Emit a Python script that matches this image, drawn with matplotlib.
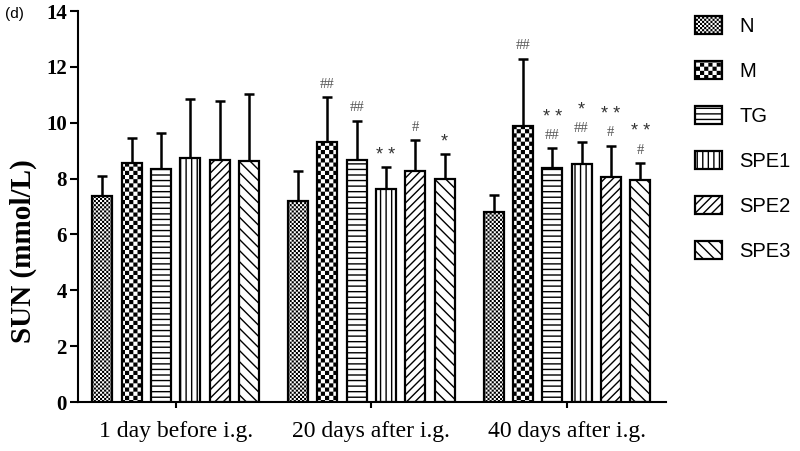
import numpy as np
import matplotlib
matplotlib.use("Agg")
import matplotlib.pyplot as plt
import matplotlib.hatch as mhatch
from matplotlib.path import Path

# ---------------- data ----------------
groups = ["1 day before i.g.", "20 days after i.g.", "40 days after i.g."]
series = ["N", "M", "TG", "SPE1", "SPE2", "SPE3"]
means_day1 = [7.39, 8.55, 8.35, 8.72, 8.65, 8.63]
means_day20 = [7.20, 9.32, 8.66, 7.63, 8.27, 8.00]
means_day40 = [6.81, 9.89, 8.39, 8.53, 8.07, 7.96]
sd_day1 = [0.70, 0.89, 1.29, 2.12, 2.12, 2.39]
sd_day20 = [1.08, 1.59, 1.40, 0.78, 1.10, 0.88]
sd_day40 = [0.60, 2.40, 0.69, 0.79, 1.10, 0.59]
hash_day1 = ["", "", "", "", "", ""]
hash_day20 = ["", "##", "##", "", "#", ""]
hash_day40 = ["", "##", "##", "##", "#", "#"]
star_day1 = ["", "", "", "", "", ""]
star_day20 = ["", "", "", "* *", "", "*"]
star_day40 = ["", "", "* *", "*", "* *", "* *"]
yticks = [0, 2, 4, 6, 8, 10, 12, 14]

means = [means_day1, means_day20, means_day40]
sds = [sd_day1, sd_day20, sd_day40]
hashes = [hash_day1, hash_day20, hash_day40]
stars = [star_day1, star_day20, star_day40]

# ---------------- checkerboard hatch ('o' -> checkerboard) ----------------
DPI = 100
HALF_LW = plt.rcParams["hatch.linewidth"] * DPI / 72.0 / 2.0 / DPI


class CheckerHatch(mhatch.HatchPatternBase):
    def __init__(self, hatch, density):
        n = int(hatch.count("o") * density)
        n += n % 2
        self.n = n
        self.num_vertices = (n * n // 2) * 5

    def set_vertices_and_codes(self, vertices, codes):
        n = self.n
        c = 1.0 / n
        s = HALF_LW
        k = 0
        for i in range(n):
            for j in range(n):
                if (i + j) % 2 == 0:
                    x0, y0 = i * c + s, j * c + s
                    x1, y1 = (i + 1) * c - s, (j + 1) * c - s
                    vertices[k:k + 5] = [[x0, y0], [x1, y0], [x1, y1], [x0, y1], [x0, y0]]
                    codes[k:k + 5] = [Path.MOVETO, Path.LINETO, Path.LINETO,
                                      Path.LINETO, Path.CLOSEPOLY]
                    k += 5


mhatch._hatch_types = [CheckerHatch if t is mhatch.SmallCircles else t
                       for t in mhatch._hatch_types]

hatch_styles = ["oooooooo", "oooo", "---", "|||", "////", "\\\\\\"]

# ---------------- figure ----------------
fig = plt.figure(figsize=(8.0, 4.51), dpi=DPI)
ax = fig.add_axes([0.0975, 0.1086, 0.7346, 0.867])

step = 0.15
width = 0.102
x0 = np.arange(len(groups))
serif = "Liberation Serif"
sans = "Liberation Sans"

for si, name in enumerate(series):
    xs = x0 + (si - 2.5) * step
    ys = [means[g][si] for g in range(len(groups))]
    es = [sds[g][si] for g in range(len(groups))]
    ax.bar(xs, ys, width=width, color="white", edgecolor="black",
           linewidth=1.6, hatch=hatch_styles[si], label=name, zorder=2)
    ax.errorbar(xs, ys, yerr=[np.zeros(len(es)), es], fmt="none",
                ecolor="black", elinewidth=1.8, capsize=3.6, capthick=1.8,
                zorder=1)
    for g in range(len(groups)):
        top = ys[g] + es[g]
        h = hashes[g][si]
        st = stars[g][si]
        if h:
            ax.annotate(h, (xs[g], top), xytext=(0, 9.5), textcoords="offset points",
                        ha="center", va="center", fontsize=10.5, color="#555555",
                        family=serif)
            if st:
                ax.annotate(st, (xs[g], top), xytext=(0, 22.5),
                            textcoords="offset points", ha="center", va="center",
                            fontsize=13, color="#333333", family=sans)
        elif st:
            ax.annotate(st, (xs[g], top), xytext=(0, 8.5), textcoords="offset points",
                        ha="center", va="center", fontsize=13, color="#333333",
                        family=sans)

ax.set_xlim(-0.5, 2.505)
ax.set_ylim(0, 14)
ax.set_yticks(yticks)
ax.set_yticklabels([str(t) for t in yticks], fontsize=15, fontweight="bold",
                   family=serif)
ax.set_xticks(x0)
ax.set_xticklabels(groups, fontsize=17, family=serif)
ax.tick_params(axis="y", direction="out", length=6, width=1.5, pad=2)
ax.tick_params(axis="x", direction="out", length=4.5, width=1.5, pad=9)
for side in ["top", "right"]:
    ax.spines[side].set_visible(False)
for side in ["left", "bottom"]:
    ax.spines[side].set_linewidth(1.5)

ax.set_ylabel("SUN (mmol/L)", fontsize=21, fontweight="bold", family=serif)
ax.yaxis.set_label_coords(-0.07, 0.386)

leg = ax.legend(loc="upper left", bbox_to_anchor=(0.869, 0.965),
                bbox_transform=fig.transFigure, frameon=False,
                prop={"family": sans, "size": 14.5}, handlelength=1.35,
                handleheight=1.0, labelspacing=1.25, handletextpad=0.85,
                borderpad=0, borderaxespad=0)

fig.text(0.006, 0.969, "(d)", fontsize=11, family=sans, va="center", ha="left")

fig.savefig("out.png", dpi=DPI)
